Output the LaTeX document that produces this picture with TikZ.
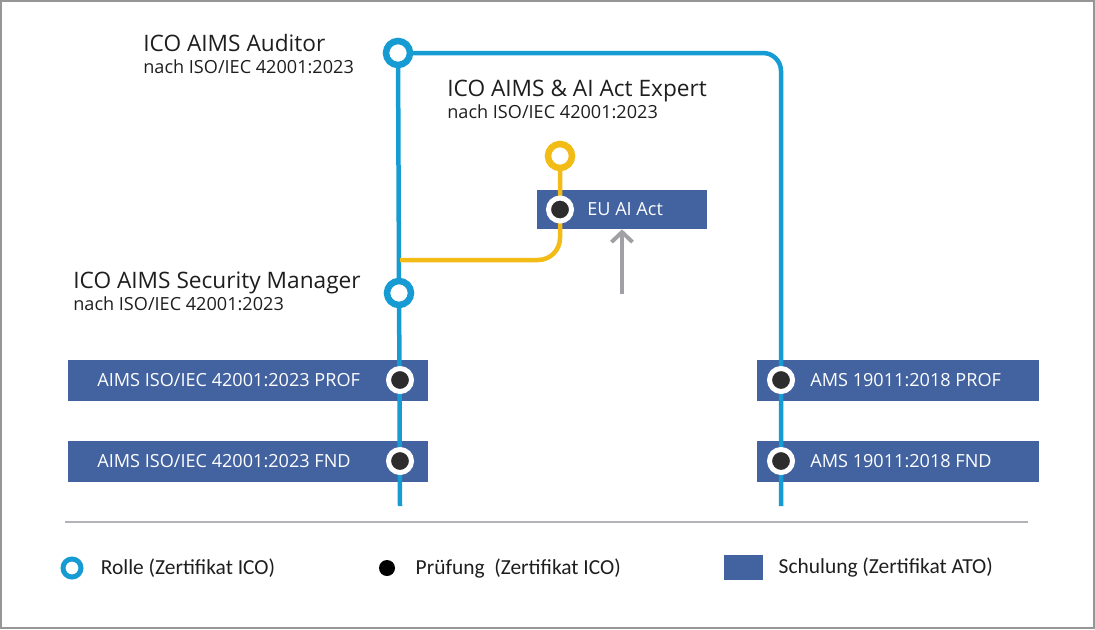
\documentclass[tikz,border=0pt]{standalone}
\usepackage{fontspec}
\setmainfont{Open Sans}
\newfontfamily\legendfont{Carlito}
\usepackage{xcolor}
\definecolor{aimsblue}{RGB}{22,156,210}
\definecolor{aimsyellow}{RGB}{242,187,22}
\definecolor{aimsbox}{RGB}{66,98,160}
\definecolor{aimsdot}{RGB}{45,45,45}
\definecolor{aimsgray}{RGB}{160,160,165}
\definecolor{aimstext}{RGB}{30,30,30}
\definecolor{aimsframe}{RGB}{150,150,150}
\usetikzlibrary{arrows.meta, positioning}
\pgfdeclarelayer{boxlayer}
\pgfdeclarelayer{linelayer}
\pgfsetlayers{boxlayer,linelayer,main}

\begin{document}
\begin{tikzpicture}[x=0.02cm, y=-0.02cm,
  course/.style={rectangle, fill=aimsbox, minimum height=0.82cm, inner sep=0pt},
  coursetext/.style={anchor=west, text=white, inner sep=0pt, font=\fontsize{10.3}{12}\selectfont},
  role/.style={circle, draw=aimsblue, line width=0.13cm, fill=white, minimum size=0.48cm, inner sep=0pt},
  exam/.style={circle, draw=white, fill=aimsdot, line width=0.1cm, minimum size=0.46cm, inner sep=0pt},
  title/.style={anchor=base west, inner sep=0pt, text=aimstext, font=\fontsize{12.9}{15}\selectfont},
  subtitle/.style={anchor=base west, inner sep=0pt, text=aimstext, font=\fontsize{10.3}{12}\selectfont},
  track/.style={line width=0.09cm, draw=aimsblue},
  branch/.style={line width=0.09cm, draw=aimsyellow},
  hint/.style={-{Straight Barb[length=0.2cm, width=0.42cm]}, line width=0.08cm, draw=aimsgray},
  legendtext/.style={inner sep=0pt, text=aimstext, font=\legendfont\fontsize{12.2}{14}\selectfont}
]
\useasboundingbox (0,0) rectangle (1095,629);
\draw[aimsframe, line width=0.04cm] (1,1) rectangle (1094,628);

% Roles
\node[role] (auditor) at (398,53) {};
\node[role] (secmgr) at (399,293) {};
\node[role, draw=aimsyellow] (expert) at (560,156) {};

\node[title] (auditortitle) at (143,51.7) {ICO AIMS Auditor};
\node[subtitle] (auditorsub) at (143,73.3) {nach ISO/IEC 42001:2023};
\node[title] (experttitle) at (447,96) {ICO AIMS \& AI Act Expert};
\node[subtitle] (expertsub) at (447,118) {nach ISO/IEC 42001:2023};
\node[title] (secmgrtitle) at (73,288.7) {ICO AIMS Security Manager};
\node[subtitle] (secmgrsub) at (73,310.3) {nach ISO/IEC 42001:2023};

% Trainings
\begin{pgfonlayer}{boxlayer}
\node[course, minimum width=7.2cm] (aimsprof) at (248,380) {};
\node[course, minimum width=7.2cm] (aimsfnd) at (248,461) {};
\node[course, minimum width=5.64cm] (amsprof) at (898,380) {};
\node[course, minimum width=5.64cm] (amsfnd) at (898,461) {};
\node[course, minimum width=3.4cm, minimum height=0.78cm] (euact) at (622,209.5) {};
\end{pgfonlayer}
\node[coursetext] (aimsproftext) at (97,380) {AIMS ISO/IEC 42001:2023 PROF};
\node[coursetext] (aimsfndtext) at (97,461) {AIMS ISO/IEC 42001:2023 FND};
\node[coursetext] (amsproftext) at (810,380) {AMS 19011:2018 PROF};
\node[coursetext] (amsfndtext) at (810,461) {AMS 19011:2018 FND};
\node[coursetext] (euacttext) at (587,209.5) {EU AI Act};

% Exams
\node[exam] (aimsprofexam) at (400,380) {};
\node[exam] (aimsfndexam) at (400,461) {};
\node[exam] (amsprofexam) at (781,380) {};
\node[exam] (amsfndexam) at (781,461) {};
\node[exam] (euactexam) at (560,209.5) {};

% Tracks
\coordinate (leftend) at (400,506);
\coordinate (rightend) at (781,506);
\coordinate (fork) at (400,260);
\coordinate (arrowfoot) at (622,294);
\begin{pgfonlayer}{linelayer}
\draw[track] (auditor.center) -- (leftend);
\draw[track, rounded corners=0.36cm] (auditor.center) -- (auditor.center -| rightend) -- (rightend);
\draw[branch, rounded corners=0.44cm] (fork) -- (fork -| expert) -- (expert.center);
\end{pgfonlayer}
\draw[hint] (arrowfoot) -- (euact.south -| arrowfoot);

% Legend
\draw[aimsgray!80, line width=0.03cm] (65,522) -- (1028,522);
\node[role, line width=0.1cm, minimum size=0.36cm] (legrole) at (72,568) {};
\node[legendtext, right=0.34cm of legrole] (legroletext) {Rolle (Zertifikat ICO)};
\node[circle, fill=black, minimum size=0.32cm, inner sep=0pt] (legexam) at (387,568) {};
\node[legendtext, right=0.4cm of legexam] (legexamtext) {Prüfung\ \ (Zertifikat ICO)};
\node[course, minimum width=0.78cm, minimum height=0.5cm] (legcourse) at (743.5,567.5) {};
\node[legendtext, right=0.3cm of legcourse] (legcoursetext) {Schulung (Zertifikat ATO)};
\end{tikzpicture}
\end{document}
